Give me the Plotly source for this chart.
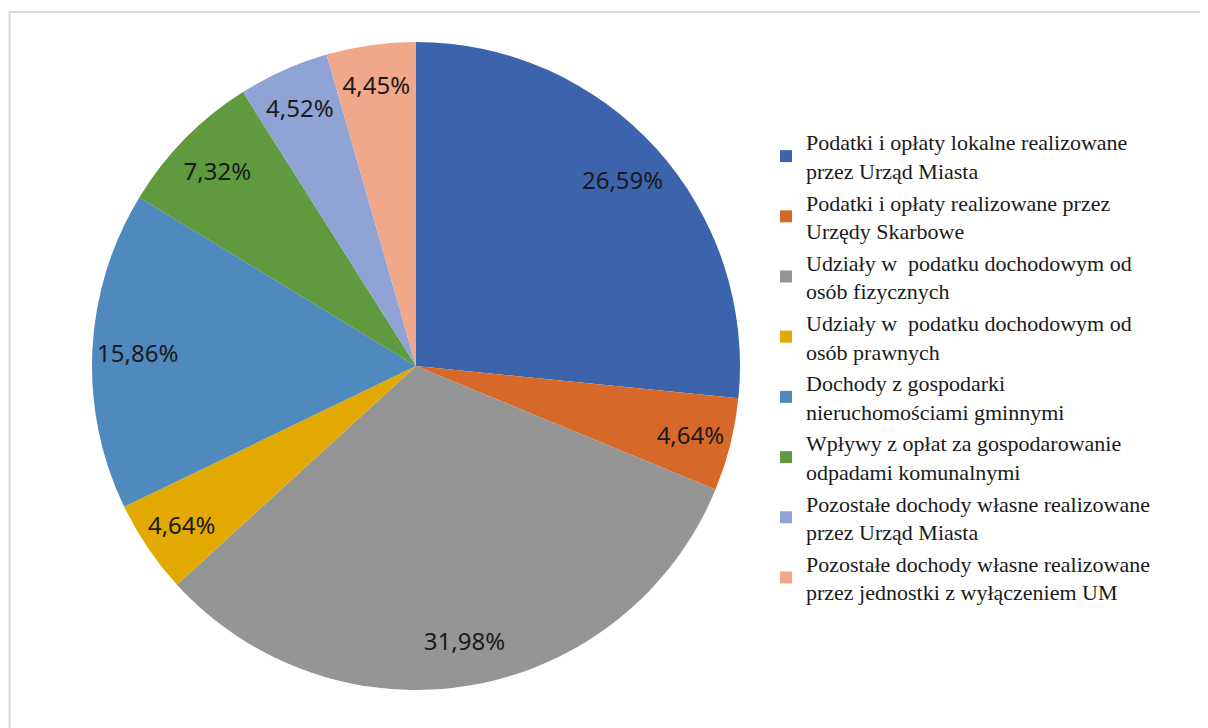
import plotly.graph_objects as go

categories = [
    "Podatki i opłaty lokalne realizowane<br>przez Urząd Miasta",
    "Podatki i opłaty realizowane przez<br>Urzędy Skarbowe",
    "Udziały w  podatku dochodowym od<br>osób fizycznych",
    "Udziały w  podatku dochodowym od<br>osób prawnych",
    "Dochody z gospodarki<br>nieruchomościami gminnymi",
    "Wpływy z opłat za gospodarowanie<br>odpadami komunalnymi",
    "Pozostałe dochody własne realizowane<br>przez Urząd Miasta",
    "Pozostałe dochody własne realizowane<br>przez jednostki z wyłączeniem UM",
]
values = [26.59, 4.64, 31.98, 4.64, 15.86, 7.32, 4.52, 4.45]
labels_text = [f"{v:.2f}".replace(".", ",") + "%" for v in values]
colors = ["#3C64AD", "#D6692A", "#959595", "#E2AA00", "#4F89BE", "#5F9A3E", "#8FA3D5", "#F0A78A"]

OFF = 8  # page body margin
W, H = 1208 - OFF, 728 - OFF
cx, cy, r = 416 - OFF, 366 - OFF, 324
dom = dict(x=[(cx - r) / W, (cx + r) / W], y=[(H - cy - r) / H, (H - cy + r) / H])

fig = go.Figure()
fig.add_trace(go.Pie(
    labels=categories,
    values=values,
    textinfo="none",
    marker=dict(colors=colors, line=dict(width=0)),
    sort=False,
    direction="clockwise",
    rotation=0,
    text=labels_text,
    hoverinfo="label+text",
    domain=dom,
))
# transparent ring used only to place the percentage labels near the rim
fig.add_trace(go.Pie(
    labels=categories,
    values=values,
    text=labels_text,
    textinfo="text",
    textposition="inside",
    insidetextorientation="horizontal",
    textfont=dict(family="Noto Sans", size=24, color="#1a1a1a"),
    marker=dict(colors=["rgba(0,0,0,0)"] * len(values), line=dict(width=0)),
    hole=0.72,
    sort=False,
    direction="clockwise",
    rotation=0,
    hoverinfo="skip",
    showlegend=False,
    domain=dom,
))

bx, by = 1.5 / W, (H - 4) / H
fig.update_layout(
    width=W, height=H,
    margin=dict(l=0, r=0, t=0, b=0),
    paper_bgcolor="white",
    plot_bgcolor="white",
    uniformtext=dict(minsize=24, mode="show"),
    legend=dict(
        x=758 / W, y=(H - 113) / H, xanchor="left", yanchor="top",
        font=dict(family="Liberation Serif", size=22, color="#1a1a1a"),
        bgcolor="rgba(0,0,0,0)",
    ),
    shapes=[dict(
        type="path", xref="paper", yref="paper",
        path=f"M {bx},-0.1 L {bx},{by} L 1.1,{by}",
        line=dict(color="#d9d9d9", width=2), layer="below",
    )],
)

fig.write_html(
    "out.html",
    config={"displayModeBar": False},
    post_script="document.documentElement.style.overflow='hidden';document.body.style.overflow='hidden';",
)
